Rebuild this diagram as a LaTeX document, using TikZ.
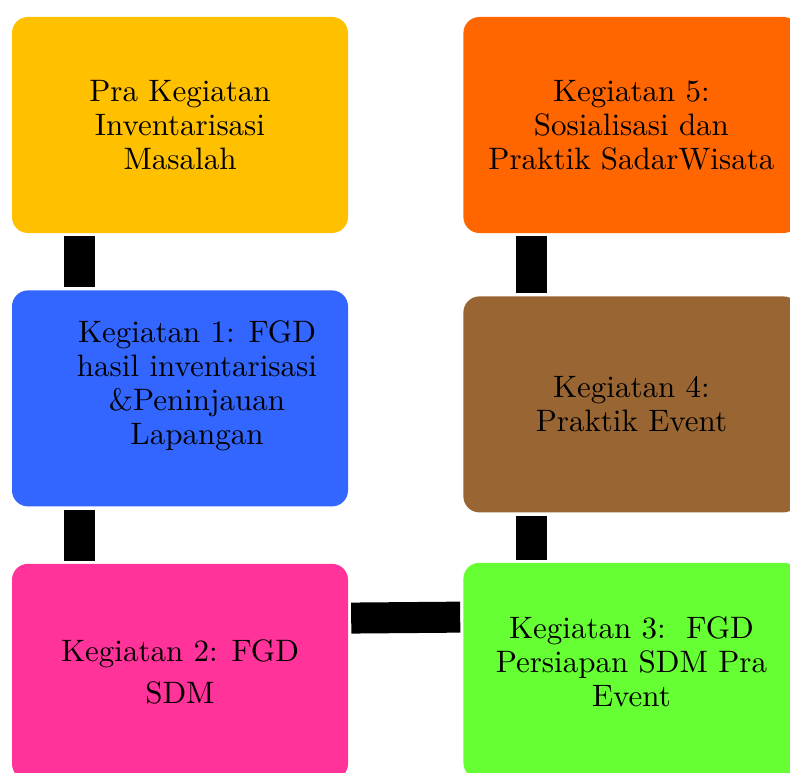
\documentclass[tikz,border=0pt]{standalone}
\usepackage{fontspec}
\usepackage{xcolor}
\usepackage{tikz}
\usetikzlibrary{positioning}

\newfontfamily\teksfont{lmroman10-regular}[Extension=.otf]

\definecolor{kuning}{HTML}{FFC000}
\definecolor{biru}{HTML}{3366FF}
\definecolor{merahmuda}{HTML}{FF3399}
\definecolor{jingga}{HTML}{FF6600}
\definecolor{coklat}{HTML}{996633}
\definecolor{hijau}{HTML}{66FF33}

\tikzset{batang/.style = {draw=black, line width=31pt, shorten <=3pt, shorten >=3pt}}

\begin{document}
\begin{tikzpicture}[x=1pt,y=1pt,
    kotak/.style={rectangle,rounded corners=16pt,minimum width=336pt,minimum height=216pt,inner sep=0pt},
    teks/.style={align=center,font=\teksfont\fontsize{31}{34}\selectfont}]
    \useasboundingbox (0,0) rectangle (790,-773);
    \clip (0,0) rectangle (790,-773);

    % kolom kiri
    \node[kotak,fill=kuning] (pra) at (180,-125) {};
    \node[kotak,fill=biru] (keg1) [below=57pt of pra] {};
    \node[kotak,fill=merahmuda] (keg2) [below=57pt of keg1] {};
    % kolom kanan
    \node[kotak,fill=jingga] (keg5) [right=115pt of pra] {};
    \node[kotak,fill=coklat] (keg4) [below=63pt of keg5] {};
    \node[kotak,fill=hijau] (keg3) [below=50pt of keg4] {};

    \node[teks] (pratxt) at (pra) {Pra Kegiatan\\Inventarisasi\\Masalah};
    \node[teks] (keg1txt) at ([xshift=17pt,yshift=13pt]keg1.center) {Kegiatan 1: FGD\\hasil inventarisasi\\\&Peninjauan\\Lapangan};
    \node[teks] (keg2txt) at (keg2) {Kegiatan 2: FGD\\[8pt]SDM};
    \node[teks] (keg3txt) at ([yshift=9pt]keg3.center) {Kegiatan 3:~~FGD\\Persiapan SDM Pra\\Event};
    \node[teks] (keg4txt) at (keg4) {Kegiatan 4:\\Praktik Event};
    \node[teks] (keg5txt) at (keg5) {Kegiatan 5:\\Sosialisasi dan\\Praktik SadarWisata};

    \draw[batang] ([xshift=67.5pt]pra.south west) -- ([xshift=67.5pt]keg1.north west);
    \draw[batang] ([xshift=67.5pt]keg1.south west) -- ([xshift=67.5pt]keg2.north west);
    \draw[batang] ([yshift=-54.5pt]keg2.north east) -- ([yshift=-54.5pt]keg3.north west);
    \draw[batang] ([xshift=68.5pt]keg3.north west) -- ([xshift=68.5pt]keg4.south west);
    \draw[batang] ([xshift=68.5pt]keg4.north west) -- ([xshift=68.5pt]keg5.south west);
\end{tikzpicture}
\end{document}
